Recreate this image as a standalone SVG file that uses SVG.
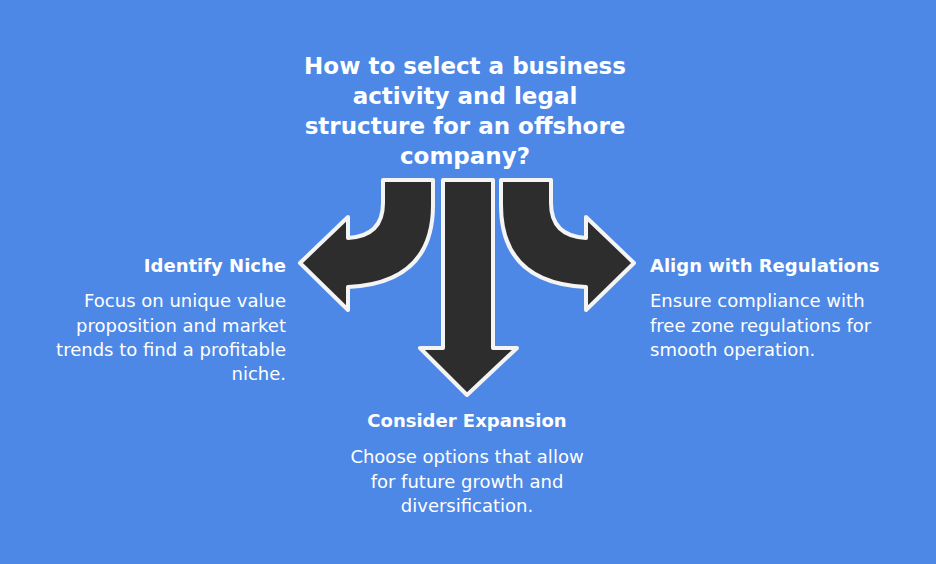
<svg xmlns="http://www.w3.org/2000/svg" width="936" height="564" viewBox="0 0 936 564">
<style>
.t{font-family:"DejaVu Sans",Verdana,sans-serif;fill:#fff;font-weight:bold;font-size:23px;text-anchor:middle}
.h{font-family:"DejaVu Sans",Verdana,sans-serif;fill:#fff;font-weight:bold;font-size:18px}
.b{font-family:"DejaVu Sans",Verdana,sans-serif;fill:#fff;font-size:18px}
.a{fill:#2d2d2d;stroke:#f4f4f4;stroke-width:4;stroke-linejoin:round}
</style>
<rect width="936" height="564" fill="#4d88e6"/>
<g id="title">
<text class="t" x="465" y="74">How to select a business</text>
<text class="t" x="465" y="104">activity and legal</text>
<text class="t" x="465" y="134">structure for an offshore</text>
<text class="t" x="465" y="164">company?</text>
</g>
<g id="connectors">
<path class="a" d="M383,180 L433,180 L433,205 Q433,283 348,287 L348,310 L300,263 L348,217 L348,238 Q383,236 383,203 Z"/>
<path class="a" d="M443,180 L493,180 L493,348 L517,348 L467,395 L420,348 L443,348 Z"/>
<path class="a" d="M551,180 L501,180 L501,205 Q501,283 586,287 L586,310 L634,263 L586,217 L586,238 Q551,236 551,203 Z"/>
</g>
<g id="niche">
<text class="h" x="286" y="272" text-anchor="end">Identify Niche</text>
<text class="b" x="286" y="307" text-anchor="end">Focus on unique value</text>
<text class="b" x="286" y="332" text-anchor="end">proposition and market</text>
<text class="b" x="286" y="356" text-anchor="end">trends to find a profitable</text>
<text class="b" x="286" y="380" text-anchor="end">niche.</text>
</g>
<g id="regulations">
<text class="h" x="650" y="272">Align with Regulations</text>
<text class="b" x="650" y="307">Ensure compliance with</text>
<text class="b" x="650" y="332">free zone regulations for</text>
<text class="b" x="650" y="356">smooth operation.</text>
</g>
<g id="expansion">
<text class="h" x="467" y="427" text-anchor="middle">Consider Expansion</text>
<text class="b" x="467" y="463" text-anchor="middle">Choose options that allow</text>
<text class="b" x="467" y="488" text-anchor="middle">for future growth and</text>
<text class="b" x="467" y="512" text-anchor="middle">diversification.</text>
</g>
</svg>
